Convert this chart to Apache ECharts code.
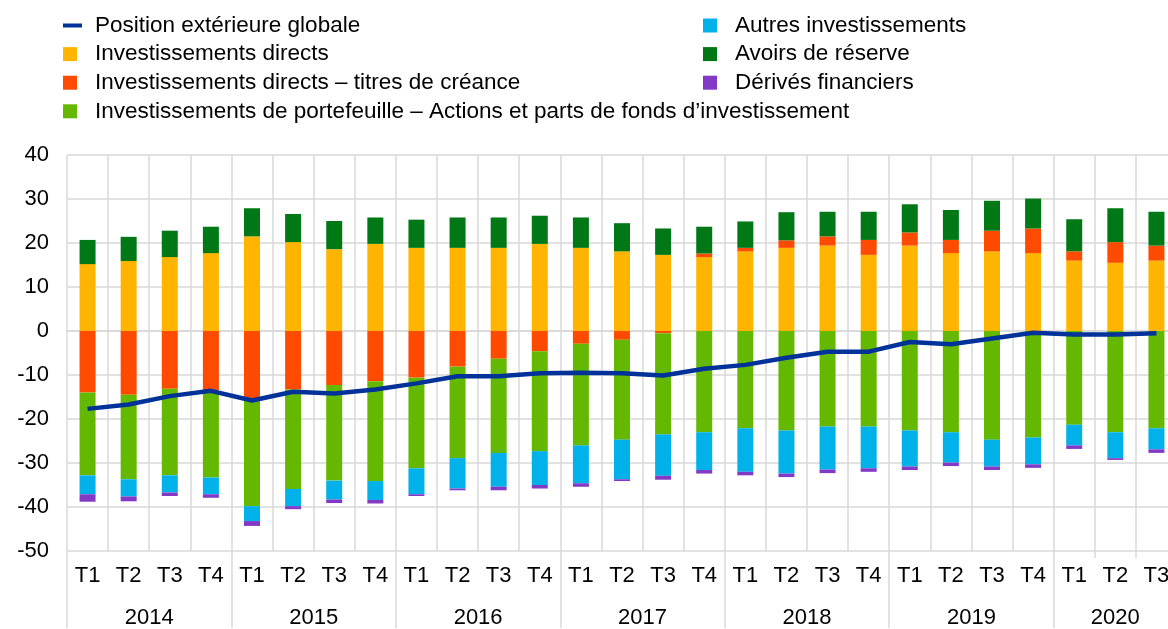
<!DOCTYPE html>
<html>
<head>
<meta charset="utf-8">
<script src="https://cdn.jsdelivr.net/npm/echarts@6/dist/echarts.min.js"></script>
<style>
  html, body { margin: 0; padding: 0; overflow: hidden; background: #fff; }
  #chart { width: 1180px; height: 629px; }
</style>
</head>
<body>
<div id="chart"></div>
<script>
// trimestres 2014 T1 - 2020 T3
const years = ['2014', '2015', '2016', '2017', '2018', '2019', '2020']
const quartersPerYear = [4, 4, 4, 4, 4, 4, 3]
const quarterLabels = ['T1', 'T2', 'T3', 'T4']

// % du PIB
const position = [-17.7, -16.7, -14.8, -13.6, -15.8, -13.8, -14.2, -13.3, -11.9, -10.3, -10.3, -9.6, -9.5, -9.6, -10.1, -8.6, -7.7, -6.1, -4.7, -4.7, -2.5, -3.0, -1.7, -0.4, -0.8, -0.8, -0.5]
const direct = [15.2, 15.9, 16.8, 17.7, 21.5, 20.2, 18.6, 19.8, 18.9, 18.9, 18.9, 19.8, 18.9, 18.1, 17.3, 16.8, 18.1, 18.9, 19.4, 17.3, 19.4, 17.7, 18.1, 17.7, 16.0, 15.5, 16.0]
const directDebt = [-14.0, -14.5, -13.1, -13.5, -15.2, -13.3, -12.3, -11.4, -10.6, -8.1, -6.3, -4.6, -2.9, -2.0, -0.5, 0.8, 0.8, 1.7, 2.1, 3.4, 3.0, 3.0, 4.7, 5.6, 2.1, 4.7, 3.4]
const portfolioEquity = [-18.8, -19.2, -19.7, -19.8, -24.6, -22.6, -21.7, -22.7, -20.6, -20.8, -21.4, -22.7, -23.1, -22.7, -23.0, -23.0, -22.1, -22.6, -21.7, -21.7, -22.6, -23.0, -24.7, -24.2, -21.3, -23.0, -22.1]
const otherInvestment = [-4.3, -3.9, -3.9, -3.8, -3.4, -3.9, -4.3, -4.3, -5.9, -6.9, -7.7, -7.7, -8.6, -9.0, -9.4, -8.6, -9.9, -9.8, -9.8, -9.5, -8.2, -6.9, -6.1, -6.1, -4.7, -5.9, -4.8]
const reserves = [5.5, 5.5, 6.0, 6.0, 6.4, 6.4, 6.4, 6.0, 6.4, 6.9, 6.9, 6.4, 6.9, 6.4, 6.0, 6.1, 6.0, 6.4, 5.6, 6.4, 6.4, 6.8, 6.8, 6.8, 7.3, 7.7, 7.7]
const derivatives = [-1.7, -1.1, -0.8, -0.8, -1.1, -0.7, -0.8, -0.8, -0.4, -0.4, -0.8, -0.8, -0.8, -0.4, -0.9, -0.8, -0.8, -0.8, -0.8, -0.8, -0.8, -0.8, -0.8, -0.8, -0.8, -0.4, -0.8]

const names = {
  position: 'Position extérieure globale',
  direct: 'Investissements directs',
  debt: 'Investissements directs – titres de créance',
  portfolio: 'Investissements de portefeuille – Actions et parts de fonds d’investissement',
  other: 'Autres investissements',
  reserves: 'Avoirs de réserve',
  derivatives: 'Dérivés financiers'
}

const colors = {
  position: '#003299',
  direct: '#FFB400',
  debt: '#FF4B00',
  portfolio: '#65B800',
  other: '#00B1EA',
  reserves: '#007816',
  derivatives: '#8139C6'
}

const categories = []
const yearStarts = []
years.forEach((y, i) => {
  yearStarts.push(categories.length)
  for (let q = 0; q < quartersPerYear[i]; q++) categories.push(y + ' ' + quarterLabels[q])
})
const yearCenters = years.map((y, i) => yearStarts[i] + quartersPerYear[i] / 2)
const nCat = categories.length

const font = "'Liberation Sans', Arial, sans-serif"
const gridColor = '#d9d9d9'
// the stray points keep every icon in a 19x14 box
const squareIcon = 'path://M0,0L14,0L14,14L0,14Z M19,14L19,14'
const lineIcon = 'path://M0,5L19,5L19,9L0,9Z M0,0L0,0 M19,14L19,14'

const legendBase = {
  orient: 'vertical',
  top: 14,
  padding: 0,
  itemWidth: 19,
  itemHeight: 14,
  itemGap: 5.6,
  selectedMode: false,
  textStyle: { fontFamily: font, fontSize: 22.5, lineHeight: 22, color: '#000', padding: [0, 0, 0, 8] }
}

const barSeries = (key, data) => ({
  name: names[key],
  type: 'bar',
  stack: 'total',
  data,
  barWidth: 16,
  itemStyle: { color: colors[key] }
})

const chart = echarts.init(document.getElementById('chart'))
const option = {
  animation: false,
  legend: [
    {
      ...legendBase,
      left: 63,
      data: [
        { name: names.position, icon: lineIcon },
        { name: names.direct, icon: squareIcon },
        { name: names.debt, icon: squareIcon },
        { name: names.portfolio, icon: squareIcon }
      ]
    },
    {
      ...legendBase,
      left: 703,
      data: [
        { name: names.other, icon: squareIcon },
        { name: names.reserves, icon: squareIcon },
        { name: names.derivatives, icon: squareIcon }
      ]
    }
  ],
  grid: { left: 67, right: 3, top: 155, bottom: 76 },
  xAxis: [
    {
      type: 'category',
      data: categories,
      axisLine: { lineStyle: { color: gridColor, width: 1.5 } },
      axisTick: { show: false },
      axisLabel: {
        interval: 0,
        margin: 14,
        fontFamily: font,
        fontSize: 22,
        color: '#000',
        formatter: (v) => v.split(' ')[1]
      },
      splitLine: { show: true, interval: 0, lineStyle: { color: gridColor, width: 1.5 } }
    },
    {
      type: 'value',
      min: 0,
      max: nCat,
      position: 'bottom',
      axisLine: { show: false },
      splitLine: { show: false },
      axisTick: {
        show: true,
        length: 77,
        customValues: yearStarts,
        lineStyle: { color: gridColor, width: 1.5 }
      },
      axisLabel: {
        margin: 56,
        fontFamily: font,
        fontSize: 22,
        color: '#000',
        customValues: yearCenters,
        formatter: (v) => years[yearCenters.indexOf(v)]
      }
    },
    {
      type: 'value',
      min: 0,
      max: nCat,
      position: 'bottom',
      axisLine: { show: false },
      splitLine: { show: false },
      axisLabel: { show: false },
      axisTick: {
        show: true,
        length: 7,
        customValues: [yearStarts[6] + 1, yearStarts[6] + 2],
        lineStyle: { color: gridColor, width: 1.5 }
      }
    }
  ],
  yAxis: {
    type: 'value',
    min: -50,
    max: 40,
    interval: 10,
    axisLine: { show: false },
    axisTick: { show: false },
    axisLabel: { margin: 18, fontFamily: font, fontSize: 22, color: '#000' },
    splitLine: { lineStyle: { color: gridColor, width: 1.5 } }
  },
  series: [
    barSeries('direct', direct),
    barSeries('debt', directDebt),
    barSeries('portfolio', portfolioEquity),
    barSeries('other', otherInvestment),
    barSeries('reserves', reserves),
    barSeries('derivatives', derivatives),
    {
      name: names.position,
      type: 'line',
      data: position,
      symbol: 'none',
      z: 5,
      lineStyle: { color: colors.position, width: 4.5 },
      itemStyle: { color: colors.position }
    }
  ]
}
chart.setOption(option)
window.addEventListener('resize', () => chart.resize())
</script>
</body>
</html>
